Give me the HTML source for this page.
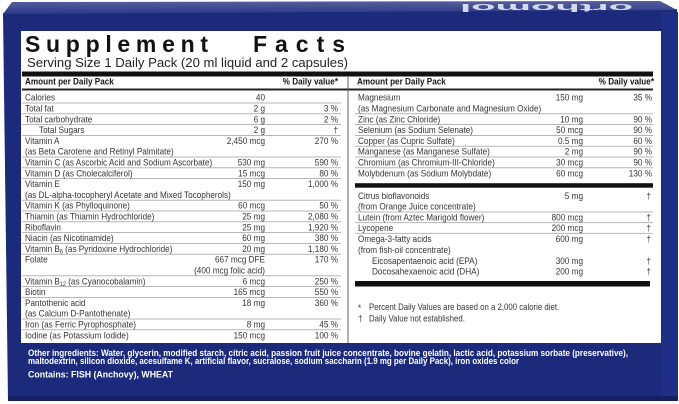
<!DOCTYPE html>
<html><head><meta charset="utf-8">
<style>
html,body{margin:0;padding:0;background:#fff;width:679px;height:404px;overflow:hidden}
svg{display:block}
text{font-family:"Liberation Sans",Arial,sans-serif}
.t{font-size:9px;fill:#353535}
.r{text-anchor:end}
.h{font-size:9.5px;font-weight:bold;fill:#141414}
.w{font-size:9.5px;font-weight:bold;fill:#ffffff}
.ln{fill:#a4a4a4}
</style></head>
<body>
<svg width="679" height="404" viewBox="0 0 679 404" xmlns="http://www.w3.org/2000/svg">
<defs>
<linearGradient id="tg" x1="0" y1="0" x2="0" y2="1">
<stop offset="0" stop-color="#55609f"/>
<stop offset="1" stop-color="#2b3887"/>
</linearGradient>
</defs>
<!-- box -->
<polygon points="3,13 677,9 678,400 8,401" fill="#1b2a7b"/>
<polygon points="12,2 660,1 677,10 3,14" fill="url(#tg)"/>
<rect x="662" y="12" width="16" height="388" fill="#1f2f85"/>
<rect x="8" y="396" width="670" height="5" fill="#142063"/>
<text transform="translate(633 4) rotate(180)" font-size="11" font-weight="bold" fill="#d4d9ec" textLength="173" lengthAdjust="spacingAndGlyphs">orthomol</text>

<!-- white panel -->
<rect x="21" y="31" width="640" height="312" fill="#ffffff"/>

<!-- title -->
<text x="25" y="52" font-size="23" font-weight="bold" fill="#111" textLength="183" lengthAdjust="spacing">Supplement</text>
<text x="253" y="52" font-size="23" font-weight="bold" fill="#111" textLength="92" lengthAdjust="spacing">Facts</text>
<text x="27" y="67" font-size="12.5" fill="#222" textLength="321" lengthAdjust="spacingAndGlyphs">Serving Size 1 Daily Pack  (20 ml liquid and 2 capsules)</text>

<!-- bars -->
<rect x="22" y="71.5" width="631" height="5" fill="#111"/>
<rect x="22" y="88.5" width="631" height="2" fill="#222"/>
<rect x="347.5" y="76" width="1" height="267" fill="#666"/>
<rect x="355" y="183.2" width="298" height="4.5" fill="#111"/>
<rect x="355" y="281" width="295" height="5.5" fill="#111"/>

<!-- headers -->
<text class="h" transform="translate(25 84.5) scale(.86 1)">Amount per Daily Pack</text>
<text class="h r" transform="translate(338 84.5) scale(.86 1)">% Daily value*</text>
<text class="h" transform="translate(357 84.5) scale(.86 1)">Amount per Daily Pack</text>
<text class="h r" transform="translate(654 84.5) scale(.86 1)">% Daily value*</text>

<!-- left separators -->
<rect class="ln" x="22" y="102.6" width="319" height="0.8"/>
<rect class="ln" x="22" y="113.4" width="319" height="0.8"/>
<rect class="ln" x="22" y="124.2" width="319" height="0.8"/>
<rect class="ln" x="22" y="135.0" width="319" height="0.8"/>
<rect class="ln" x="22" y="156.6" width="319" height="0.8"/>
<rect class="ln" x="22" y="167.4" width="319" height="0.8"/>
<rect class="ln" x="22" y="178.2" width="319" height="0.8"/>
<rect class="ln" x="22" y="199.8" width="319" height="0.8"/>
<rect class="ln" x="22" y="210.6" width="319" height="0.8"/>
<rect class="ln" x="22" y="221.4" width="319" height="0.8"/>
<rect class="ln" x="22" y="232.2" width="319" height="0.8"/>
<rect class="ln" x="22" y="243.0" width="319" height="0.8"/>
<rect class="ln" x="22" y="253.8" width="319" height="0.8"/>
<rect class="ln" x="22" y="275.4" width="319" height="0.8"/>
<rect class="ln" x="22" y="286.2" width="319" height="0.8"/>
<rect class="ln" x="22" y="297.0" width="319" height="0.8"/>
<rect class="ln" x="22" y="318.6" width="319" height="0.8"/>
<rect class="ln" x="22" y="329.4" width="319" height="0.8"/>

<!-- right separators -->
<rect class="ln" x="355" y="113.4" width="298" height="0.8"/>
<rect class="ln" x="355" y="124.2" width="298" height="0.8"/>
<rect class="ln" x="355" y="135.0" width="298" height="0.8"/>
<rect class="ln" x="355" y="145.8" width="298" height="0.8"/>
<rect class="ln" x="355" y="156.6" width="298" height="0.8"/>
<rect class="ln" x="355" y="167.4" width="298" height="0.8"/>
<rect class="ln" x="355" y="211.6" width="298" height="0.8"/>
<rect class="ln" x="355" y="222.3" width="298" height="0.8"/>
<rect class="ln" x="355" y="232.9" width="298" height="0.8"/>

<!-- left column -->
<text class="t" transform="translate(25 100.7) scale(.91 1)">Calories</text>
<text class="t r" transform="translate(265 100.7) scale(.91 1)">40</text>

<text class="t" transform="translate(25 111.5) scale(.91 1)">Total fat</text>
<text class="t r" transform="translate(265 111.5) scale(.91 1)">2 g</text>
<text class="t r" transform="translate(338 111.5) scale(.91 1)">3 %</text>

<text class="t" transform="translate(25 122.3) scale(.91 1)">Total carbohydrate</text>
<text class="t r" transform="translate(265 122.3) scale(.91 1)">6 g</text>
<text class="t r" transform="translate(338 122.3) scale(.91 1)">2 %</text>

<text class="t" transform="translate(39 133.1) scale(.91 1)">Total Sugars</text>
<text class="t r" transform="translate(265 133.1) scale(.91 1)">2 g</text>
<text class="t r" transform="translate(338 133.1) scale(.91 1)">†</text>

<text class="t" transform="translate(25 143.9) scale(.91 1)">Vitamin A</text>
<text class="t r" transform="translate(265 143.9) scale(.91 1)">2,450 mcg</text>
<text class="t r" transform="translate(338 143.9) scale(.91 1)">270 %</text>
<text class="t" transform="translate(25 154.7) scale(.91 1)">(as Beta Carotene and Retinyl Palmitate)</text>

<text class="t" transform="translate(25 165.5) scale(.91 1)">Vitamin C (as Ascorbic Acid and Sodium Ascorbate)</text>
<text class="t r" transform="translate(265 165.5) scale(.91 1)">530 mg</text>
<text class="t r" transform="translate(338 165.5) scale(.91 1)">590 %</text>

<text class="t" transform="translate(25 176.3) scale(.91 1)">Vitamin D (as Cholecalciferol)</text>
<text class="t r" transform="translate(265 176.3) scale(.91 1)">15 mcg</text>
<text class="t r" transform="translate(338 176.3) scale(.91 1)">80 %</text>

<text class="t" transform="translate(25 187.1) scale(.91 1)">Vitamin E</text>
<text class="t r" transform="translate(265 187.1) scale(.91 1)">150 mg</text>
<text class="t r" transform="translate(338 187.1) scale(.91 1)">1,000 %</text>
<text class="t" transform="translate(25 197.9) scale(.91 1)">(as DL-alpha-tocopheryl Acetate and Mixed Tocopherols)</text>

<text class="t" transform="translate(25 208.7) scale(.91 1)">Vitamin K (as Phylloquinone)</text>
<text class="t r" transform="translate(265 208.7) scale(.91 1)">60 mcg</text>
<text class="t r" transform="translate(338 208.7) scale(.91 1)">50 %</text>

<text class="t" transform="translate(25 219.5) scale(.91 1)">Thiamin (as Thiamin Hydrochloride)</text>
<text class="t r" transform="translate(265 219.5) scale(.91 1)">25 mg</text>
<text class="t r" transform="translate(338 219.5) scale(.91 1)">2,080 %</text>

<text class="t" transform="translate(25 230.3) scale(.91 1)">Riboflavin</text>
<text class="t r" transform="translate(265 230.3) scale(.91 1)">25 mg</text>
<text class="t r" transform="translate(338 230.3) scale(.91 1)">1,920 %</text>

<text class="t" transform="translate(25 241.1) scale(.91 1)">Niacin (as Nicotinamide)</text>
<text class="t r" transform="translate(265 241.1) scale(.91 1)">60 mg</text>
<text class="t r" transform="translate(338 241.1) scale(.91 1)">380 %</text>

<text class="t" transform="translate(25 251.9) scale(.91 1)">Vitamin B<tspan font-size="6" dy="1.8">6</tspan><tspan dy="-1.8"> (as Pyridoxine Hydrochloride)</tspan></text>
<text class="t r" transform="translate(265 251.9) scale(.91 1)">20 mg</text>
<text class="t r" transform="translate(338 251.9) scale(.91 1)">1,180 %</text>

<text class="t" transform="translate(25 262.7) scale(.91 1)">Folate</text>
<text class="t r" transform="translate(265 262.7) scale(.91 1)">667 mcg DFE</text>
<text class="t r" transform="translate(338 262.7) scale(.91 1)">170 %</text>
<text class="t r" transform="translate(265 273.5) scale(.91 1)">(400 mcg folic acid)</text>

<text class="t" transform="translate(25 284.3) scale(.91 1)">Vitamin B<tspan font-size="6" dy="1.8">12</tspan><tspan dy="-1.8"> (as Cyanocobalamin)</tspan></text>
<text class="t r" transform="translate(265 284.3) scale(.91 1)">6 mcg</text>
<text class="t r" transform="translate(338 284.3) scale(.91 1)">250 %</text>

<text class="t" transform="translate(25 295.1) scale(.91 1)">Biotin</text>
<text class="t r" transform="translate(265 295.1) scale(.91 1)">165 mcg</text>
<text class="t r" transform="translate(338 295.1) scale(.91 1)">550 %</text>

<text class="t" transform="translate(25 305.9) scale(.91 1)">Pantothenic acid</text>
<text class="t r" transform="translate(265 305.9) scale(.91 1)">18 mg</text>
<text class="t r" transform="translate(338 305.9) scale(.91 1)">360 %</text>
<text class="t" transform="translate(25 316.7) scale(.91 1)">(as Calcium D-Pantothenate)</text>

<text class="t" transform="translate(25 327.5) scale(.91 1)">Iron (as Ferric Pyrophosphate)</text>
<text class="t r" transform="translate(265 327.5) scale(.91 1)">8 mg</text>
<text class="t r" transform="translate(338 327.5) scale(.91 1)">45 %</text>

<text class="t" transform="translate(25 338.3) scale(.91 1)">Iodine (as Potassium Iodide)</text>
<text class="t r" transform="translate(265 338.3) scale(.91 1)">150 mcg</text>
<text class="t r" transform="translate(338 338.3) scale(.91 1)">100 %</text>

<!-- right column -->
<text class="t" transform="translate(358 100.7) scale(.91 1)">Magnesium</text>
<text class="t r" transform="translate(583 100.7) scale(.91 1)">150 mg</text>
<text class="t r" transform="translate(652 100.7) scale(.91 1)">35 %</text>
<text class="t" transform="translate(358 111.5) scale(.91 1)">(as Magnesium Carbonate and Magnesium Oxide)</text>

<text class="t" transform="translate(358 122.3) scale(.91 1)">Zinc (as Zinc Chloride)</text>
<text class="t r" transform="translate(583 122.3) scale(.91 1)">10 mg</text>
<text class="t r" transform="translate(652 122.3) scale(.91 1)">90 %</text>

<text class="t" transform="translate(358 133.1) scale(.91 1)">Selenium (as Sodium Selenate)</text>
<text class="t r" transform="translate(583 133.1) scale(.91 1)">50 mcg</text>
<text class="t r" transform="translate(652 133.1) scale(.91 1)">90 %</text>

<text class="t" transform="translate(358 143.9) scale(.91 1)">Copper (as Cupric Sulfate)</text>
<text class="t r" transform="translate(583 143.9) scale(.91 1)">0.5 mg</text>
<text class="t r" transform="translate(652 143.9) scale(.91 1)">60 %</text>

<text class="t" transform="translate(358 154.7) scale(.91 1)">Manganese (as Manganese Sulfate)</text>
<text class="t r" transform="translate(583 154.7) scale(.91 1)">2 mg</text>
<text class="t r" transform="translate(652 154.7) scale(.91 1)">90 %</text>

<text class="t" transform="translate(358 165.5) scale(.91 1)">Chromium (as Chromium-III-Chloride)</text>
<text class="t r" transform="translate(583 165.5) scale(.91 1)">30 mcg</text>
<text class="t r" transform="translate(652 165.5) scale(.91 1)">90 %</text>

<text class="t" transform="translate(358 176.3) scale(.91 1)">Molybdenum (as Sodium Molybdate)</text>
<text class="t r" transform="translate(583 176.3) scale(.91 1)">60 mcg</text>
<text class="t r" transform="translate(652 176.3) scale(.91 1)">130 %</text>

<text class="t" transform="translate(358 199.2) scale(.91 1)">Citrus bioflavonoids</text>
<text class="t r" transform="translate(583 199.2) scale(.91 1)">5 mg</text>
<text class="t r" transform="translate(651 199.2) scale(.91 1)">†</text>
<text class="t" transform="translate(358 209.7) scale(.91 1)">(from Orange Juice concentrate)</text>

<text class="t" transform="translate(358 220.5) scale(.91 1)">Lutein (from Aztec Marigold flower)</text>
<text class="t r" transform="translate(583 220.5) scale(.91 1)">800 mcg</text>
<text class="t r" transform="translate(651 220.5) scale(.91 1)">†</text>

<text class="t" transform="translate(358 231.2) scale(.91 1)">Lycopene</text>
<text class="t r" transform="translate(583 231.2) scale(.91 1)">200 mcg</text>
<text class="t r" transform="translate(651 231.2) scale(.91 1)">†</text>

<text class="t" transform="translate(358 242.2) scale(.91 1)">Omega-3-fatty acids</text>
<text class="t r" transform="translate(583 242.2) scale(.91 1)">600 mg</text>
<text class="t r" transform="translate(651 242.2) scale(.91 1)">†</text>
<text class="t" transform="translate(358 253) scale(.91 1)">(from fish-oil concentrate)</text>

<text class="t" transform="translate(372 263.8) scale(.91 1)">Eicosapentaenoic acid (EPA)</text>
<text class="t r" transform="translate(583 263.8) scale(.91 1)">300 mg</text>
<text class="t r" transform="translate(651 263.8) scale(.91 1)">†</text>

<text class="t" transform="translate(372 274.4) scale(.91 1)">Docosahexaenoic acid (DHA)</text>
<text class="t r" transform="translate(583 274.4) scale(.91 1)">200 mg</text>
<text class="t r" transform="translate(651 274.4) scale(.91 1)">†</text>

<!-- footnotes -->
<text class="t" transform="translate(358 311) scale(.91 1)">*</text>
<text class="t" transform="translate(369 310) scale(.87 1)">Percent Daily Values are based on a 2,000 calorie diet.</text>
<text class="t" transform="translate(358 321.5) scale(.91 1)">†</text>
<text class="t" transform="translate(369 321.5) scale(.87 1)">Daily Value not established.</text>

<!-- ingredients -->
<text class="w" x="28" y="355.8" textLength="600" lengthAdjust="spacingAndGlyphs">Other ingredients: Water, glycerin, modified starch, citric acid, passion fruit juice concentrate, bovine gelatin, lactic acid, potassium sorbate (preservative),</text>
<text class="w" x="28" y="364" textLength="491" lengthAdjust="spacingAndGlyphs">maltodextrin, silicon dioxide, acesulfame K, artificial flavor, sucralose, sodium saccharin (1.9 mg per Daily Pack), iron oxides color</text>
<text class="w" x="28" y="377.5" textLength="145" lengthAdjust="spacingAndGlyphs">Contains: FISH (Anchovy), WHEAT</text>
</svg>
</body></html>
